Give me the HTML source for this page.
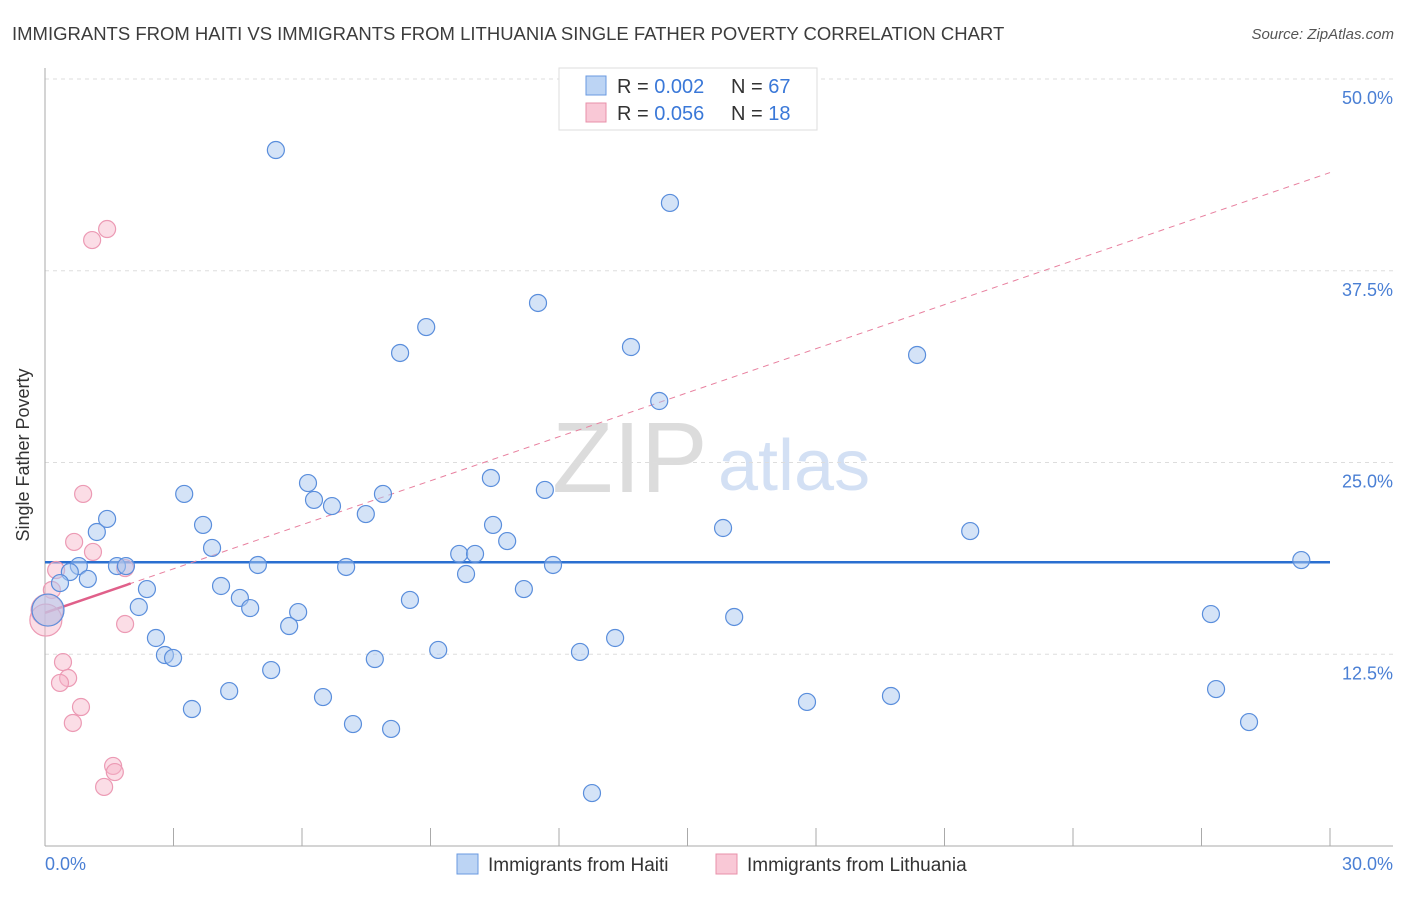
<!DOCTYPE html>
<html><head><meta charset="utf-8"><style>
body{margin:0;background:#fff;font-family:"Liberation Sans",sans-serif}
svg text{font-family:"Liberation Sans",sans-serif}
</style></head><body>
<svg id="chart" width="1406" height="892">
<text x="12" y="40" font-size="18.5" fill="#3c3c3c">IMMIGRANTS FROM HAITI VS IMMIGRANTS FROM LITHUANIA SINGLE FATHER POVERTY CORRELATION CHART</text>
<text x="1394" y="39" font-size="15" fill="#555" font-style="italic" text-anchor="end">Source: ZipAtlas.com</text>
<g opacity="0.55">
<text x="552" y="492" font-size="100" font-family="Liberation Serif" fill="#c0c0c0">ZIP</text>
<text x="718" y="490" font-size="72" fill="#b0c8ec">atlas</text>
</g>
<g id="grid"></g><g id="axes"></g><g id="trend"></g><g id="pts"></g>
<text x="29" y="455" font-size="18" fill="#333" transform="rotate(-90 29 455)" text-anchor="middle">Single Father Poverty</text>
<text x="45" y="870" font-size="18" fill="#4a7fd4">0.0%</text>
<text x="1393" y="870" font-size="18" fill="#4a7fd4" text-anchor="end">30.0%</text>
<g>
<rect x="559" y="68" width="258" height="62" fill="#fff" stroke="#ddd"/>
<rect x="586" y="76" width="20" height="19" fill="#bcd4f4" stroke="#6a9ae0"/>
<rect x="586" y="103" width="20" height="19" fill="#f9c8d6" stroke="#e890aa"/>
<text x="617" y="93" font-size="20" fill="#333">R = <tspan fill="#3a78d8">0.002</tspan><tspan x="731">N = </tspan><tspan fill="#3a78d8">67</tspan></text>
<text x="617" y="120" font-size="20" fill="#333">R = <tspan fill="#3a78d8">0.056</tspan><tspan x="731">N = </tspan><tspan fill="#3a78d8"> 18</tspan></text>
</g>
<g>
<rect x="457" y="854" width="21" height="20" fill="#bcd4f4" stroke="#6a9ae0"/>
<text x="488" y="871" font-size="19" fill="#333">Immigrants from Haiti</text>
<rect x="716" y="854" width="21" height="20" fill="#f9c8d6" stroke="#e890aa"/>
<text x="747" y="871" font-size="19" fill="#333">Immigrants from Lithuania</text>
</g>
</svg>
<script>
const yTicks=[12.5,25,37.5,50];
const yTickLabels=["12.5%","25.0%","37.5%","50.0%"];
const xTicks=[3,6,9,12,15,18,21,24,27,30];
const haitiX=[5.39,14.59,11.51,8.90,8.29,13.68,20.36,14.34,3.25,6.14,6.28,6.70,7.89,10.41,11.67,7.49,10.46,10.79,9.67,10.04,9.83,11.86,11.18,15.83,21.60,29.33,3.69,1.21,1.45,3.90,0.79,0.58,1.00,1.68,1.89,4.97,7.03,2.38,2.19,4.11,4.55,4.79,5.91,5.70,8.52,2.59,2.80,2.99,4.30,5.28,3.43,6.49,7.70,9.18,7.19,8.08,12.49,13.31,16.09,17.79,19.75,27.22,27.34,28.11,12.77,0.35,0.07];
const haitiY=[45.37,41.92,35.40,33.83,32.14,32.53,32.01,29.01,22.95,23.66,22.56,22.16,22.95,23.99,23.21,21.64,20.93,19.88,19.04,19.04,17.73,18.32,16.75,20.73,20.53,18.64,20.93,20.47,21.32,19.43,18.25,17.86,17.41,18.25,18.25,18.32,18.19,16.75,15.58,16.95,16.17,15.51,15.25,14.34,16.04,13.56,12.45,12.26,10.10,11.47,8.93,9.71,12.19,12.78,7.95,7.63,12.65,13.56,14.93,9.39,9.78,15.12,10.23,8.08,3.45,17.14,15.38];
const haitiBig=[66];
const lithX=[1.10,1.45,0.89,0.68,1.12,0.26,1.87,0.16,0.05,0.02,1.87,0.42,0.54,0.35,0.84,0.65,1.59,1.63,1.38];
const lithY=[39.50,40.22,22.95,19.82,19.17,17.99,18.12,16.69,15.38,14.73,14.47,11.99,10.95,10.63,9.06,8.02,5.22,4.82,3.85];
const lithBig=[8,9];
const haitiTrend=[18.5,18.5];
const lithTrend=[15.2,43.9];
const X=v=>45+v*(1285/30);
const Y=v=>846-v*(767/50);
const NS="http://www.w3.org/2000/svg";
function mk(parent,tag,attrs){const e=document.createElementNS(NS,tag);for(const k in attrs)e.setAttribute(k,attrs[k]);document.getElementById(parent).appendChild(e);return e;}
yTicks.forEach((t,i)=>{
 const g=mk('grid','line',{x1:45,x2:1393,y1:Y(t),y2:Y(t),stroke:'#ddd','stroke-dasharray':'4,4'});
 
 
 const l=mk('grid','text',{x:1393,y:Y(t)+25,'font-size':18,fill:'#4a7fd4','text-anchor':'end'});
 l.textContent=yTickLabels[i];
 
 
});
const ax=mk('axes','line',{x1:45,x2:1393,y1:846,y2:846,stroke:'#aaa'});


const ay=mk('axes','line',{x1:45,x2:45,y1:68,y2:846,stroke:'#aaa'});


xTicks.forEach(t=>{
 const k=mk('axes','line',{x1:X(t),x2:X(t),y1:828,y2:846,stroke:'#aaa'});
 
 
});
const bt=mk('trend','line',{x1:X(0),x2:X(30),y1:Y(haitiTrend[0]),y2:Y(haitiTrend[1]),stroke:'#2a6fd0','stroke-width':2.5});


const pd=mk('trend','line',{x1:X(0),x2:X(30),y1:Y(lithTrend[0]),y2:Y(lithTrend[1]),stroke:'#e8809f','stroke-width':1,'stroke-dasharray':'6,5'});


const endV=lithTrend[0]+(lithTrend[1]-lithTrend[0])*2/30;
const ps=mk('trend','line',{x1:X(0),x2:X(2),y1:Y(lithTrend[0]),y2:Y(endV),stroke:'#e0608a','stroke-width':2.5});


lithX.forEach((x,i)=>{
 const c=mk('pts','circle',{cx:X(x),cy:Y(lithY[i]),r:lithBig.includes(i)?16:8.5,fill:'rgba(246,180,200,0.45)',stroke:'#ec9ab4','stroke-width':1.2});
 
 
});
haitiX.forEach((x,i)=>{
 const c=mk('pts','circle',{cx:X(x),cy:Y(haitiY[i]),r:haitiBig.includes(i)?16:8.5,fill:'rgba(170,200,240,0.5)',stroke:'#5a8edc','stroke-width':1.2});
 
 
});
</script>
</body></html>
